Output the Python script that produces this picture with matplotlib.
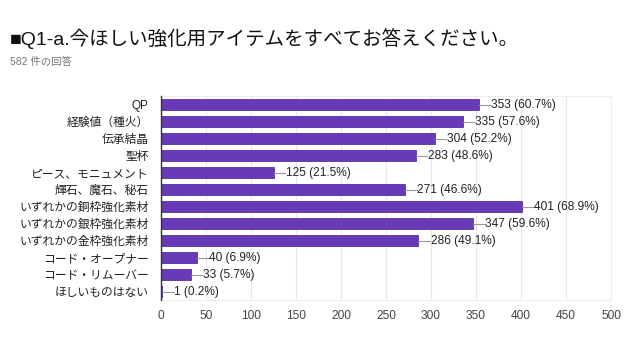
import matplotlib
matplotlib.use("Agg")
import matplotlib.pyplot as plt

plt.rcParams['font.family'] = ['Noto Sans CJK JP', 'DejaVu Sans']

items = ['QP', '経験値（種火）', '伝承結晶', '聖杯', 'ピース、モニュメント', '輝石、魔石、秘石',
         'いずれかの銅枠強化素材', 'いずれかの銀枠強化素材', 'いずれかの金枠強化素材',
         'コード・オープナー', 'コード・リムーバー', 'ほしいものはない']
counts = [353, 335, 304, 283, 125, 271, 401, 347, 286, 40, 33, 1]
percents = ['60.7%', '57.6%', '52.2%', '48.6%', '21.5%', '46.6%', '68.9%', '59.6%', '49.1%',
            '6.9%', '5.7%', '0.2%']
xticks = [0, 50, 100, 150, 200, 250, 300, 350, 400, 450, 500]

latin = ['Liberation Sans', 'Noto Sans CJK JP', 'DejaVu Sans']

fig = plt.figure(figsize=(6.4, 3.6), dpi=100)
ax = fig.add_axes([161/640, 1 - 300/360, 450/640, 204/360])

y = list(range(len(items)))
ax.barh(y, counts, height=0.62, color='#673ab7', edgecolor='#5a2fa6', linewidth=0.6, zorder=3)

for yi, c, p in zip(y, counts, percents):
    ax.plot([c, c + 13], [yi, yi], color='#999999', linewidth=0.8, zorder=3)
    ax.text(c + 13.5, yi, f'{c} ({p})', va='center', ha='left', fontsize=8.6, color='#222222',
            family=latin)

ax.set_ylim(len(items) - 0.5, -0.5)
ax.set_xlim(0, 500)
ax.set_xticks(xticks)
ax.set_yticks(y)
ax.set_yticklabels(items, fontsize=8.5, color='#222222')
for lab in ax.get_xticklabels():
    lab.set_family(latin)
for lab in ax.get_yticklabels():
    lab.set_family(latin)
ax.tick_params(axis='x', labelsize=8.6, colors='#444444', length=0, pad=7)
ax.tick_params(axis='y', length=0, pad=9)
ax.grid(axis='x', color='#e8e8e8', linewidth=0.8, zorder=0)
for s in ['top', 'right', 'bottom']:
    ax.spines[s].set_color('#eeeeee')
ax.spines['left'].set_color('#333333')
ax.spines['left'].set_linewidth(1.0)
ax.spines['left'].set_zorder(4)

fig.text(10/640, 1 - 39/360, '■Q1-a.今ほしい強化用アイテムをすべてお答えください。', fontsize=14,
         va='center', ha='left', color='#111111', family=latin)
fig.text(10/640, 1 - 62/360, '582 件の回答', fontsize=7.5, va='center', ha='left', color='#777777',
         family=latin)

fig.savefig('out.png', dpi=100)
